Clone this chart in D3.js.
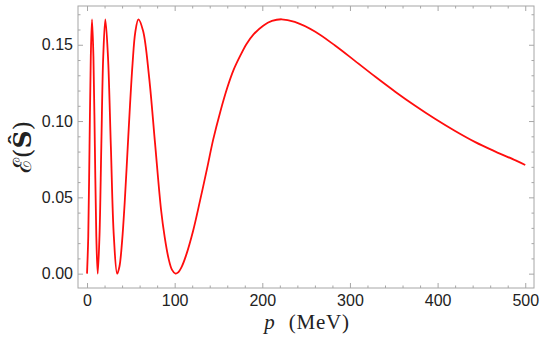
<!DOCTYPE html>
<html>
<head>
<meta charset="utf-8">
<script src="https://cdn.jsdelivr.net/npm/d3@7"></script>
<style>
  html, body { margin: 0; padding: 0; background: #fff; }
  svg { display: block; }
</style>
</head>
<body>
<svg id="chart" width="540" height="337"></svg>
<script>
// Momentum p (MeV) values
const pValues = [
  0, 1.4, 2.85, 4.3, 5.7, 7.3, 8.95, 10.6, 12.2,
  14.2, 16.3, 18.5, 20.9, 23.9, 27.2, 30.6, 34.4,
  37, 40, 43, 46, 49, 52, 55, 58.6,
  64, 70.8, 77.6, 84.5, 88.5, 93, 97, 101,
  104, 108, 113, 121, 129, 137, 144, 152, 160, 167, 175, 182, 190, 201, 211, 222,
  237, 260, 283, 306, 329, 352, 374, 397, 420, 443, 466, 489, 500
];
// Entanglement E(S) values
const eValues = [
  0, 0.0244, 0.0833, 0.1423, 0.1667, 0.1423, 0.0833, 0.0244, 0,
  0.0244, 0.0833, 0.1423, 0.1667, 0.1423, 0.0833, 0.0244, 0,
  0.0047, 0.0212, 0.0468, 0.0782, 0.110, 0.138, 0.158, 0.1667,
  0.159, 0.129, 0.0855, 0.0417, 0.0244, 0.010, 0.0025, 0,
  0.0008, 0.0045, 0.012, 0.028, 0.048, 0.069, 0.088, 0.106, 0.1218, 0.1332, 0.143, 0.1505, 0.1568, 0.1625, 0.1656, 0.1667,
  0.1650, 0.1587, 0.1495, 0.1393, 0.1290, 0.1191, 0.1102, 0.1015, 0.0935, 0.0862, 0.0800, 0.0742, 0.0712
];
const xTicks = [0, 100, 200, 300, 400, 500];
const yTicks = [0.00, 0.05, 0.10, 0.15];
const xMinorStep = 20;
const yMinorStep = 0.01;

const data = pValues.map((p, i) => ({ p, e: eValues[i] }));

const svg = d3.select("#chart");
const L = 78, R = 534, T = 6, B = 288;

const x = d3.scaleLinear().domain([-10.3, 510]).range([L, R]);
const y = d3.scaleLinear().domain([-0.0094, 0.1754]).range([B, T]);

const frameColor = "#a6a6a6";
const textColor = "#222";

const xMinor = d3.range(0, 511, xMinorStep).filter(v => xTicks.indexOf(v) < 0);
const yMinor = d3.range(0, 0.1754, yMinorStep).map(v => +v.toFixed(2)).filter(v => !yTicks.some(t => Math.abs(t - v) < 1e-9));

// Frame
svg.append("rect")
  .attr("x", L).attr("y", T).attr("width", R - L).attr("height", B - T)
  .attr("fill", "none").attr("stroke", frameColor).attr("stroke-width", 1);

function ticksOnly(axis, tr) {
  svg.append("g").attr("transform", tr).call(axis)
    .call(g => g.select(".domain").remove())
    .selectAll(".tick line").attr("stroke", frameColor);
}

// Bottom axis
const gB = svg.append("g").attr("transform", `translate(0,${B})`)
  .call(d3.axisBottom(x).tickValues(xTicks).tickFormat(d3.format("d")).tickSizeInner(-5).tickSizeOuter(0).tickPadding(7));
gB.select(".domain").remove();
gB.selectAll(".tick line").attr("stroke", frameColor);
gB.selectAll("text").attr("fill", textColor).style("font-family", "'Liberation Sans', Arial, sans-serif").style("font-size", "16px");
ticksOnly(d3.axisBottom(x).tickValues(xMinor).tickFormat("").tickSizeInner(-2.5).tickSizeOuter(0), `translate(0,${B})`);

// Top axis (ticks only)
ticksOnly(d3.axisTop(x).tickValues(xTicks).tickFormat("").tickSizeInner(-5).tickSizeOuter(0), `translate(0,${T})`);
ticksOnly(d3.axisTop(x).tickValues(xMinor).tickFormat("").tickSizeInner(-2.5).tickSizeOuter(0), `translate(0,${T})`);

// Left axis
const gL = svg.append("g").attr("transform", `translate(${L},0)`)
  .call(d3.axisLeft(y).tickValues(yTicks).tickFormat(d3.format(".2f")).tickSizeInner(-5).tickSizeOuter(0).tickPadding(5));
gL.select(".domain").remove();
gL.selectAll(".tick line").attr("stroke", frameColor);
gL.selectAll("text").attr("fill", textColor).style("font-family", "'Liberation Sans', Arial, sans-serif").style("font-size", "16px");
ticksOnly(d3.axisLeft(y).tickValues(yMinor).tickFormat("").tickSizeInner(-2.5).tickSizeOuter(0), `translate(${L},0)`);

// Right axis (ticks only)
ticksOnly(d3.axisRight(y).tickValues(yTicks).tickFormat("").tickSizeInner(-5).tickSizeOuter(0), `translate(${R},0)`);
ticksOnly(d3.axisRight(y).tickValues(yMinor).tickFormat("").tickSizeInner(-2.5).tickSizeOuter(0), `translate(${R},0)`);

// Curve
const line = d3.line().x(d => x(d.p)).y(d => y(d.e)).curve(d3.curveCatmullRom.alpha(0.5));
svg.append("path").datum(data)
  .attr("d", line)
  .attr("fill", "none")
  .attr("stroke", "#ff0d0d")
  .attr("stroke-width", 1.8)
  .attr("stroke-linejoin", "round");

// X label
const xl = svg.append("text")
  .attr("x", (L + R) / 2 + 1).attr("y", 329)
  .attr("text-anchor", "middle")
  .attr("fill", textColor)
  .style("font-family", "'Liberation Serif', 'DejaVu Serif', serif")
  .style("font-size", "21px");
xl.append("tspan").style("font-style", "italic").text("p");
xl.append("tspan").attr("dx", 14).style("letter-spacing", "0.8px").text("(MeV)");

// Y label
const yl = svg.append("text")
  .attr("transform", `translate(31,${(T + B) / 2}) rotate(-90)`)
  .attr("text-anchor", "middle")
  .attr("fill", textColor)
  .style("font-family", "'DejaVu Serif', 'Liberation Serif', serif")
  .style("font-size", "25px");
yl.append("tspan").text("ℰ(");
yl.append("tspan").style("font-weight", "bold").text("Ŝ");
yl.append("tspan").text(")");
</script>
</body>
</html>
